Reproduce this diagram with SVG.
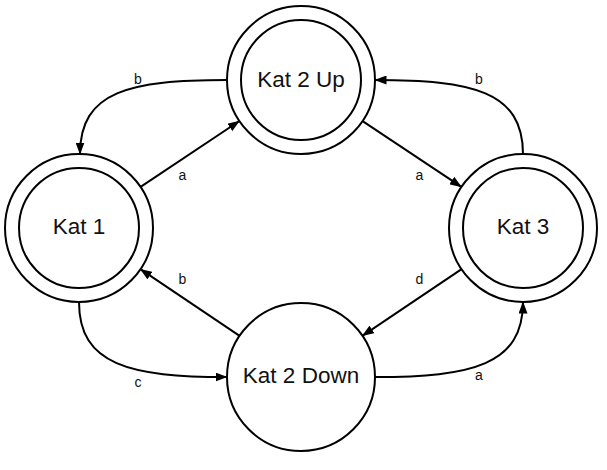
<svg xmlns="http://www.w3.org/2000/svg" width="607" height="470" viewBox="0 0 607 470">
<style>
.ring{fill:#fff;stroke:#000;stroke-width:2}
.name{font-family:"Liberation Sans",Arial,sans-serif;font-size:22.5px;fill:#111;text-anchor:middle}
.edge{fill:none;stroke:#000;stroke-width:2;marker-end:url(#arr)}
.lbl{font-family:"Liberation Sans",Arial,sans-serif;font-size:14px;fill:#111;text-anchor:middle}
</style>
<defs>
<marker id="arr" markerUnits="userSpaceOnUse" markerWidth="12" markerHeight="9" refX="11.5" refY="4.5" orient="auto" viewBox="0 0 12 9">
<path d="M0,0 L12,4.5 L0,9 z" fill="#000"/>
</marker>
</defs>
<rect width="607" height="470" fill="#fff"/>
<g id="connectors">
<path class="edge" d="M227,80 C130,80 80,91 80,154"/>
<path class="edge" d="M140.6,186.9 L239.4,121"/>
<path class="edge" d="M362.6,121.1 L461.4,186.9"/>
<path class="edge" d="M523,154 C523,91 472,80 375,80"/>
<path class="edge" d="M79,302 C79,365 130,377 227,377"/>
<path class="edge" d="M375,377 C472,377 523,365 523,302"/>
<path class="edge" d="M461.6,269.2 L362.4,335.8"/>
<path class="edge" d="M239.6,335.8 L140.4,269.2"/>
<text class="lbl" x="138" y="83.5">b</text>
<text class="lbl" x="182.5" y="180">a</text>
<text class="lbl" x="419.5" y="180">a</text>
<text class="lbl" x="479" y="83.5">b</text>
<text class="lbl" x="138" y="387">c</text>
<text class="lbl" x="479" y="380">a</text>
<text class="lbl" x="419.5" y="284">d</text>
<text class="lbl" x="182.5" y="284">b</text>
</g>
<g id="kat2up">
<circle class="ring" cx="301" cy="80" r="74"/>
<circle class="ring" cx="301" cy="80" r="60"/>
<text class="name" x="301" y="86.5">Kat 2 Up</text>
</g>
<g id="kat1">
<circle class="ring" cx="79" cy="228" r="74"/>
<circle class="ring" cx="79" cy="228" r="60"/>
<text class="name" x="79" y="234">Kat 1</text>
</g>
<g id="kat3">
<circle class="ring" cx="523" cy="228" r="74"/>
<circle class="ring" cx="523" cy="228" r="60"/>
<text class="name" x="523" y="234">Kat 3</text>
</g>
<g id="kat2down">
<circle class="ring" cx="301" cy="377" r="74"/>
<text class="name" x="301" y="383">Kat 2 Down</text>
</g>
</svg>
